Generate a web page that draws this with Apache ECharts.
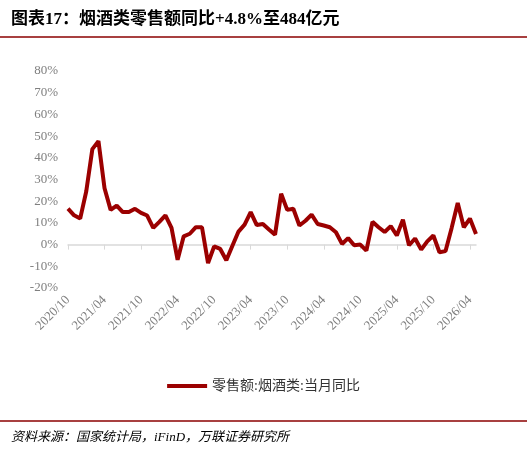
<!DOCTYPE html>
<html><head><meta charset="utf-8">
<script src="https://cdn.jsdelivr.net/npm/echarts@6/dist/echarts.min.js"></script>
<style>body{margin:0;background:#fff}#c{width:527px;height:449px}</style>
</head><body><div id="c"></div>
<script>
const values = [16.6,13.5,12,24.6,44,47.7,26,16,18,15,15,16.5,14.6,13.4,7.7,10.5,13.5,7.7,-7,3.8,5,8,8,-8.5,-0.8,-2,-7.2,-0.5,6,9.2,15,9,9.5,7,4.6,23.4,16,16.5,8.8,11,13.8,9.5,8.8,8,5.7,0.3,3,-0.3,0,-2.8,10.5,8,5.8,8.5,4.2,11.5,-0.3,2.8,-2.3,1.5,4.2,-3.5,-3,7.7,19.2,8,12,4.9];
const categories = [];
(function(){let y=2020,m=10;for(let i=0;i<values.length;i++){categories.push(y+'/'+String(m).padStart(2,'0'));m++;if(m>12){m=1;y++;}}})();
const yTicks = {min:-20,max:80,interval:10};
const title = '图表17：烟酒类零售额同比+4.8%至484亿元';
const seriesName = '零售额:烟酒类:当月同比';
const source = '资料来源：国家统计局，iFinD，万联证券研究所';
const serif = '"Liberation Serif","Noto Sans CJK SC",serif';
const chart = echarts.init(document.getElementById('c'));
chart.setOption({
  animation:false,
  title:[{text:title,left:6,top:6,textStyle:{fontSize:17,fontWeight:'bold',color:'#000',fontFamily:serif}},
         {text:source,left:6,top:426,textStyle:{fontSize:13,fontWeight:'normal',fontStyle:'italic',color:'#000',fontFamily:serif}}],
  graphic:[{type:'line',shape:{x1:0,y1:37,x2:527,y2:37},style:{stroke:'#8b0000',lineWidth:1.5}},
           {type:'line',shape:{x1:0,y1:421,x2:527,y2:421},style:{stroke:'#8b0000',lineWidth:1.5}}],
  legend:{top:374,left:'center',itemWidth:40,itemHeight:4,icon:'rect',
    textStyle:{fontSize:14,color:'#333',fontFamily:serif},data:[seriesName]},
  grid:{left:68,right:51,top:71,bottom:161},
  xAxis:{type:'category',data:categories,boundaryGap:false,
    axisLine:{lineStyle:{color:'#d9d9d9',width:1.5}},
    axisTick:{alignWithLabel:true,interval:5,lineStyle:{color:'#d9d9d9'}},
    axisLabel:{interval:5,rotate:45,color:'#7f7f7f',fontSize:13,fontFamily:serif,margin:10}},
  yAxis:{type:'value',min:yTicks.min,max:yTicks.max,interval:yTicks.interval,
    splitLine:{show:false},axisLine:{show:false},axisTick:{show:false},
    axisLabel:{formatter:'{value}%',color:'#7f7f7f',fontSize:13,fontFamily:serif,margin:10}},
  series:[{name:seriesName,type:'line',data:values,symbol:'none',
    lineStyle:{color:'#9b0000',width:4},itemStyle:{color:'#9b0000'}}]
});
</script></body></html>
